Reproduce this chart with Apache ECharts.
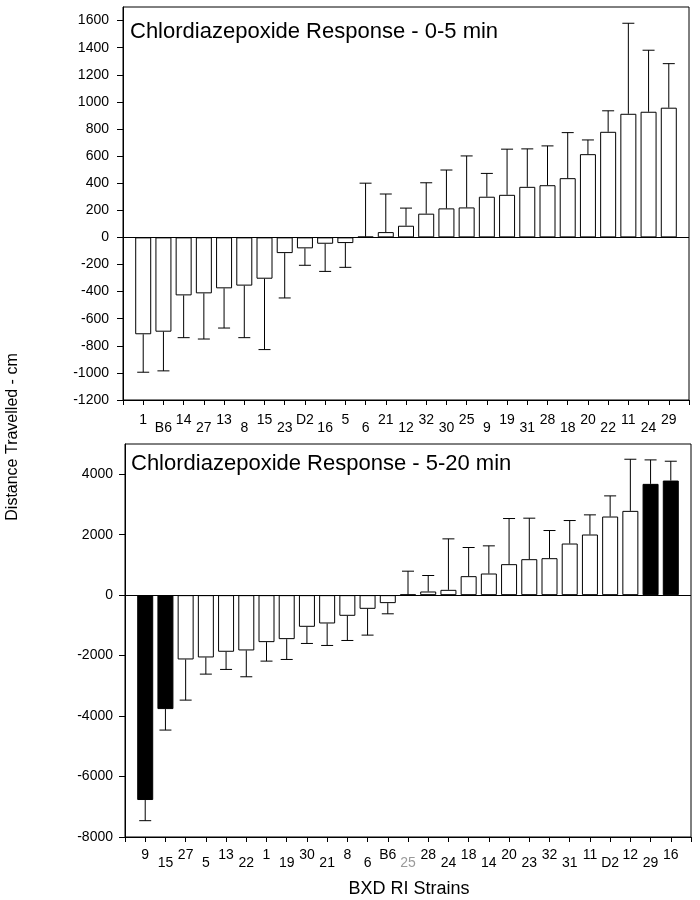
<!DOCTYPE html>
<html>
<head>
<meta charset="utf-8">
<script src="https://cdn.jsdelivr.net/npm/echarts@6/dist/echarts.min.js"></script>
<style>
html,body{margin:0;padding:0;background:#fff;}
#c{width:700px;height:900px;}
</style>
</head>
<body>
<div id="c"></div>
<script>
// ---- Top panel: 0-5 min ----
const topStrains = ['1','B6','14','27','13','8','15','23','D2','16','5','6','21','12','32','30','25','9','19','31','28','18','20','22','11','24','29'];
const topMeans   = [-715,-696,-428,-413,-376,-356,-305,-116,-81,-47,-42,5,39,86,175,214,221,300,314,373,385,437,614,779,912,927,957];
const topErrors  = [280,289,312,337,293,384,523,331,125,204,179,395,281,130,228,283,380,172,337,280,290,336,105,155,668,454,325];
const topTicks   = {min:-1200, max:1700, interval:200};

// ---- Bottom panel: 5-20 min ----
const botStrains = ['9','15','27','5','13','22','1','19','30','21','8','6','B6','25','28','24','18','14','20','23','32','31','11','D2','12','29','16'];
const botMeans   = [-6777,-3769,-2127,-2061,-1873,-1829,-1554,-1455,-1047,-937,-683,-452,-264,20,121,176,628,716,1025,1190,1223,1708,2006,2601,2788,3681,3791];
const botErrors  = [683,694,1345,551,584,871,628,672,551,727,816,870,353,773,529,1686,948,915,1510,1356,915,760,650,683,1708,793,639];
const botHighlighted = ['9','15','29','16'];
const botGreyLabels  = ['25'];
const botTicks   = {min:-8000, max:5000, interval:2000};

const FONT = "'Liberation Sans', Arial, Helvetica, sans-serif";

function cats(strains){ return [''].concat(strains).concat(['']); }

function barData(strains, means, highlighted){
  return means.map((v,i)=>({
    value:[i+1, v],
    itemStyle:{color: highlighted.indexOf(strains[i])>=0 ? '#000' : '#fff', borderColor:'#000', borderWidth:1}
  }));
}
function errData(means, errs){
  return means.map((v,i)=>[i+1, v, v>=0 ? v+errs[i] : v-errs[i]]);
}
function renderErr(params, api){
  const x = api.value(0);
  const p0 = api.coord([x, api.value(1)]);
  const p1 = api.coord([x, api.value(2)]);
  const hw = 6;
  const st = {stroke:'#000', lineWidth:1};
  return {type:'group', children:[
    {type:'line', shape:{x1:p0[0], y1:p0[1], x2:p1[0], y2:p1[1]}, style:st},
    {type:'line', shape:{x1:p1[0]-hw, y1:p1[1], x2:p1[0]+hw, y2:p1[1]}, style:st}
  ]};
}
function catLabel(grey){
  return function(val, idx){
    if(val==='') return '';
    if(idx%2===1) return '{h|'+val+'}';
    return (grey.indexOf(val)>=0 ? '{g|' : '{l|') + val + '}';
  };
}
const rich = {
  h:{fontSize:14, fontFamily:FONT, color:'#000', lineHeight:16},
  l:{fontSize:14, fontFamily:FONT, color:'#000', lineHeight:32},
  g:{fontSize:14, fontFamily:FONT, color:'#9a9a9a', lineHeight:32}
};

function xAxis(gi, strains, grey, margin){
  return {
    type:'category', gridIndex:gi, data:cats(strains), boundaryGap:false,
    axisLine:{show:true, onZero:false, lineStyle:{color:'#000', width:1}},
    axisTick:{show:true, length:5, inside:false, lineStyle:{color:'#000'}},
    axisLabel:{interval:0, margin:margin, formatter:catLabel(grey), rich:rich},
    splitLine:{show:false}
  };
}
function yAxis(gi, t, margin){
  return {
    type:'value', gridIndex:gi, min:t.min, max:t.max, interval:t.interval,
    axisLine:{show:true, lineStyle:{color:'#000', width:1}},
    axisTick:{show:true, length:6, lineStyle:{color:'#000'}},
    axisLabel:{showMaxLabel:false, margin:margin, fontSize:14, fontFamily:FONT, color:'#000',
      formatter:function(v){ return String(v); }},
    splitLine:{show:false}
  };
}
const zeroLine = {silent:true, symbol:['none','none'], label:{show:false},
  lineStyle:{color:'#000', width:1, type:'solid'}, data:[{yAxis:0}]};

const chart = echarts.init(document.getElementById('c'), null, {renderer:'canvas'});
chart.setOption({
  animation:false,
  backgroundColor:'#fff',
  grid:[
    {left:123, right:11, top:7, height:393, show:true, borderColor:'#000', borderWidth:1, backgroundColor:'transparent'},
    {left:125, right:9, top:444, height:393, show:true, borderColor:'#000', borderWidth:1, backgroundColor:'transparent'}
  ],
  xAxis:[xAxis(0, topStrains, [], 12), xAxis(1, botStrains, botGreyLabels, 10)],
  yAxis:[yAxis(0, topTicks, 14), yAxis(1, botTicks, 12)],
  series:[
    {type:'bar', xAxisIndex:0, yAxisIndex:0, barWidth:16, data:barData(topStrains, topMeans, []), markLine:zeroLine, z:2},
    {type:'custom', xAxisIndex:0, yAxisIndex:0, renderItem:renderErr, data:errData(topMeans, topErrors), encode:{x:0, y:[1,2]}, z:3},
    {type:'bar', xAxisIndex:1, yAxisIndex:1, barWidth:16, data:barData(botStrains, botMeans, botHighlighted), markLine:zeroLine, z:2},
    {type:'custom', xAxisIndex:1, yAxisIndex:1, renderItem:renderErr, data:errData(botMeans, botErrors), encode:{x:0, y:[1,2]}, z:3}
  ],
  graphic:[
    {type:'text', left:130, top:21, style:{text:'Chlordiazepoxide Response - 0-5 min', fontSize:22, fontFamily:FONT, fill:'#000'}},
    {type:'text', left:131, top:453, style:{text:'Chlordiazepoxide Response - 5-20 min', fontSize:22, fontFamily:FONT, fill:'#000'}},
    {type:'text', x:13, y:437, rotation:Math.PI/2, style:{text:'Distance Travelled - cm', fontSize:16, fontFamily:FONT, fill:'#000', textAlign:'center', textVerticalAlign:'middle'}},
    {type:'text', x:409, y:889, style:{text:'BXD RI Strains', fontSize:18, fontFamily:FONT, fill:'#000', textAlign:'center', textVerticalAlign:'middle'}}
  ]
});
</script>
</body>
</html>
